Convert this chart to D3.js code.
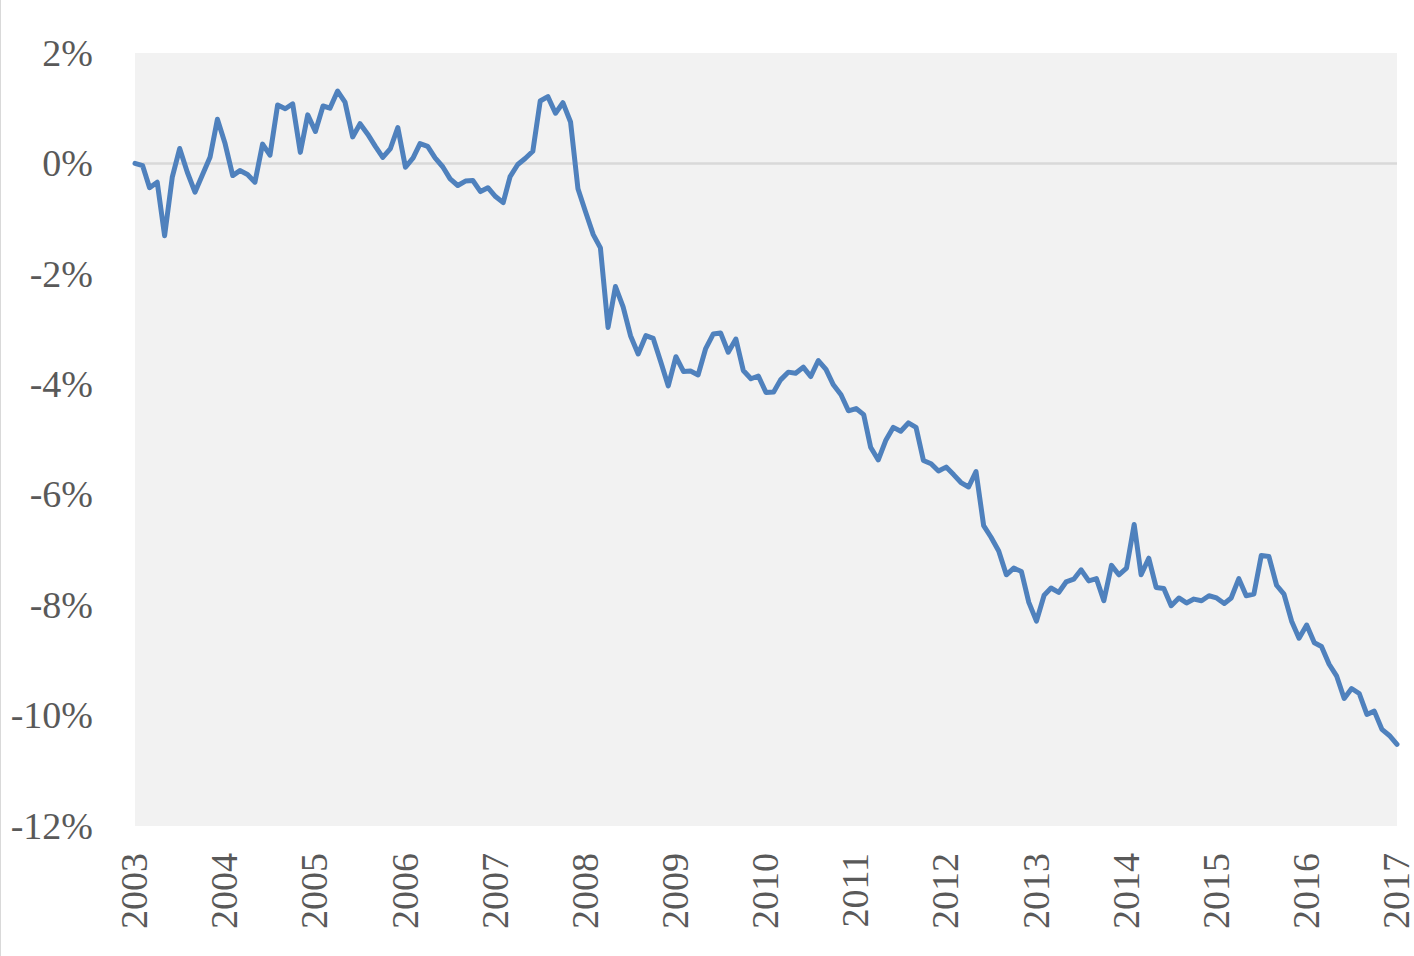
<!DOCTYPE html>
<html>
<head>
<meta charset="utf-8">
<script src="https://cdn.jsdelivr.net/npm/d3@7"></script>
<style>
  body { margin: 0; background: #fff; }
  svg { display: block; }
</style>
</head>
<body>
<svg id="chart"></svg>
<script>
// monthly values in %, Jan 2003 .. Jan 2017
const startYear = 2003;
const years = [2003, 2004, 2005, 2006, 2007, 2008, 2009, 2010, 2011, 2012, 2013, 2014, 2015, 2016, 2017];
const yTicks = [2, 0, -2, -4, -6, -8, -10, -12];
const values = [
  0.00, -0.04, -0.44, -0.34, -1.31, -0.25, 0.27, -0.16, -0.52, -0.21, 0.11, 0.80,
  0.36, -0.22, -0.13, -0.20, -0.34, 0.35, 0.15, 1.06, 0.99, 1.08, 0.20, 0.88,
  0.58, 1.04, 1.00, 1.31, 1.11, 0.48, 0.72, 0.53, 0.31, 0.11, 0.27, 0.65,
  -0.07, 0.10, 0.36, 0.31, 0.10, -0.06, -0.28, -0.40, -0.32, -0.31, -0.51, -0.44,
  -0.60, -0.71, -0.24, -0.02, 0.09, 0.22, 1.13, 1.21, 0.91, 1.10, 0.75, -0.46,
  -0.88, -1.29, -1.53, -2.97, -2.23, -2.60, -3.12, -3.45, -3.12, -3.17, -3.60, -4.03,
  -3.50, -3.77, -3.76, -3.83, -3.36, -3.09, -3.07, -3.42, -3.18, -3.75, -3.90, -3.85,
  -4.15, -4.14, -3.92, -3.78, -3.80, -3.69, -3.86, -3.57, -3.73, -4.01, -4.19, -4.48,
  -4.44, -4.55, -5.14, -5.37, -5.02, -4.78, -4.85, -4.70, -4.78, -5.38, -5.44, -5.57,
  -5.50, -5.64, -5.78, -5.86, -5.58, -6.56, -6.77, -7.02, -7.45, -7.33, -7.39, -7.95,
  -8.29, -7.82, -7.69, -7.77, -7.58, -7.53, -7.36, -7.56, -7.52, -7.92, -7.28, -7.45,
  -7.33, -6.54, -7.45, -7.15, -7.68, -7.70, -8.01, -7.87, -7.96, -7.89, -7.92, -7.83,
  -7.87, -7.97, -7.87, -7.52, -7.83, -7.80, -7.10, -7.12, -7.64, -7.80, -8.29, -8.60,
  -8.36, -8.68, -8.75, -9.07, -9.28, -9.69, -9.51, -9.60, -9.98, -9.92, -10.25, -10.36,
  -10.52
];

const width = 1414;
const height = 956;
const margin = { top: 53, right: 17, bottom: 130, left: 135 };
const innerW = width - margin.left - margin.right;
const innerH = height - margin.top - margin.bottom;

const data = values.map((v, i) => ({ date: new Date(startYear, i, 1), value: v }));

const svg = d3.select('#chart')
  .attr('width', width)
  .attr('height', height);

// faint chart border on the left edge
svg.append('line')
  .attr('x1', 0.5).attr('x2', 0.5)
  .attr('y1', 0).attr('y2', height)
  .attr('stroke', '#d9d9d9');

const g = svg.append('g')
  .attr('transform', `translate(${margin.left},${margin.top})`);

const x = d3.scaleTime()
  .domain([new Date(years[0], 0, 1), new Date(years[years.length - 1], 0, 1)])
  .range([0, innerW]);

const y = d3.scaleLinear()
  .domain([d3.min(yTicks), d3.max(yTicks)])
  .range([innerH, 0]);

g.append('rect')
  .attr('width', innerW)
  .attr('height', innerH)
  .attr('fill', '#f2f2f2');

g.append('line')
  .attr('x1', 0).attr('x2', innerW)
  .attr('y1', y(0)).attr('y2', y(0))
  .attr('stroke', '#d9d9d9')
  .attr('stroke-width', 2.5);

const fontFamily = '"Liberation Serif", "DejaVu Serif", serif';

const yAxis = g.append('g')
  .call(d3.axisLeft(y)
    .tickValues(yTicks)
    .tickSize(0)
    .tickPadding(42)
    .tickFormat(d => `${d}%`));
yAxis.select('.domain').remove();
yAxis.selectAll('text')
  .attr('font-family', fontFamily)
  .attr('font-size', 38)
  .attr('fill', '#595959');

const xAxis = g.append('g')
  .attr('transform', `translate(0,${innerH})`)
  .call(d3.axisBottom(x)
    .tickValues(years.map(yr => new Date(yr, 0, 1)))
    .tickSize(0)
    .tickFormat(d3.timeFormat('%Y')));
xAxis.select('.domain').remove();
xAxis.selectAll('text')
  .attr('font-family', fontFamily)
  .attr('font-size', 38)
  .attr('fill', '#595959')
  .attr('text-anchor', 'end')
  .attr('transform', 'translate(-1,27) rotate(-90)')
  .attr('x', 0)
  .attr('y', 0)
  .attr('dy', '0.33em');

const line = d3.line()
  .x(d => x(d.date))
  .y(d => y(d.value));

g.append('path')
  .datum(data)
  .attr('d', line)
  .attr('fill', 'none')
  .attr('stroke', '#4f81bd')
  .attr('stroke-width', 5)
  .attr('stroke-linejoin', 'round')
  .attr('stroke-linecap', 'round');
</script>
</body>
</html>
